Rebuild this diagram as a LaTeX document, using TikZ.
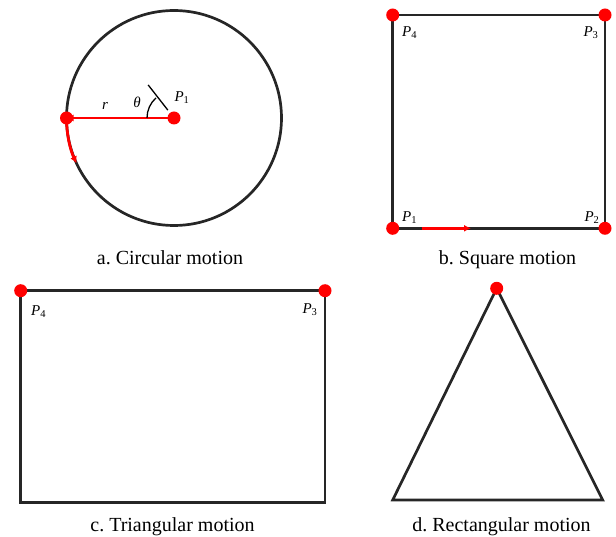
\documentclass[tikz,border=0pt]{standalone}
\usepackage{fontspec}
\setmainfont{Liberation Serif}
\usetikzlibrary{positioning,calc,arrows.meta}
\frenchspacing

\begin{document}
\begin{tikzpicture}[x=1pt,y=-1pt,
  dot/.style={circle,fill=red,inner sep=0pt,minimum size=13pt},
  edge/.style={line width=2.7pt,draw=black!85,line join=miter},
  mv/.style={red,line width=2.8pt,-{Latex[length=7pt,width=7pt]}},
  lab/.style={font=\fontsize{15}{17}\selectfont},
  captext/.style={font=\fontsize{20}{24}\selectfont,anchor=base}]
\useasboundingbox (0,0) rectangle (616,537);
% a. circle with radius r and angle theta
\coordinate (O) at (174,118);
\draw[edge] (O) circle[radius=107.5];
\coordinate (c0) at ($(O)+(180:107.5)$);
\draw[mv] (O) -- (c0);
\draw[mv] (c0) arc[start angle=180,end angle=155,radius=107.5];
\draw[line width=1.3pt] ($(O)+(232:10)$) -- ($(O)+(232:42)$);
\draw[line width=1.3pt] ($(O)+(180:27)$) arc[start angle=180,end angle=228,radius=27];
\node[dot] (a1) at (O) {};
\node[dot] (a0) at (c0) {};
\node[lab] (th) at (137,102) {\textit{θ}};
\node[lab] (rr) at (105,106) {\textit{r}};
\node[lab] (ap1) at (182,98) {\textit{P}\textsubscript{1}};
\node[captext] (capa) at (170,265) {a. Circular motion};
% b. square path
\coordinate (s1) at (392.7,228.3);
\coordinate (s2) at (605,228.3);
\coordinate (s3) at (605,15);
\coordinate (s4) at (392.7,15);
\draw[edge] (s1) -- (s2) -- (s3) -- (s4) -- cycle;
\coordinate (sa) at (421.7,228.3);
\coordinate (sb) at (471,228.3);
\draw[mv] (sa) -- (sb);
\foreach \d in {1,2,3,4} {\node[dot] (sd\d) at (s\d) {};}
\node[lab] (bp1) at ($(s1)+(17,-11)$) {\textit{P}\textsubscript{1}};
\node[lab] (bp2) at ($(s2)+(-13,-11)$) {\textit{P}\textsubscript{2}};
\node[lab] (bp3) at ($(s3)+(-14,18)$) {\textit{P}\textsubscript{3}};
\node[lab] (bp4) at ($(s4)+(17,18)$) {\textit{P}\textsubscript{4}};
\node[captext] (capb) at (507.5,265) {b. Square motion};
% c. rectangle
\coordinate (r1) at (20.7,502.3);
\coordinate (r2) at (325,502.3);
\coordinate (r3) at (325,290.7);
\coordinate (r4) at (20.7,290.7);
\draw[edge] (r1) -- (r2) -- (r3) -- (r4) -- cycle;
\node[dot] (rd3) at (r3) {};
\node[dot] (rd4) at (r4) {};
\node[lab] (cp3) at ($(r3)+(-15,19)$) {\textit{P}\textsubscript{3}};
\node[lab] (cp4) at ($(r4)+(18,21)$) {\textit{P}\textsubscript{4}};
\node[captext] (capc) at (172.5,531) {c. Triangular motion};
% d. triangle
\coordinate (t1) at (392.7,500);
\coordinate (t2) at (602.7,500);
\coordinate (t3) at (496.7,288.3);
\draw[edge] (t1) -- (t2) -- (t3) -- cycle;
\node[dot] (td3) at (t3) {};
\node[captext] (capd) at (501.5,531) {d. Rectangular motion};
\end{tikzpicture}
\end{document}
